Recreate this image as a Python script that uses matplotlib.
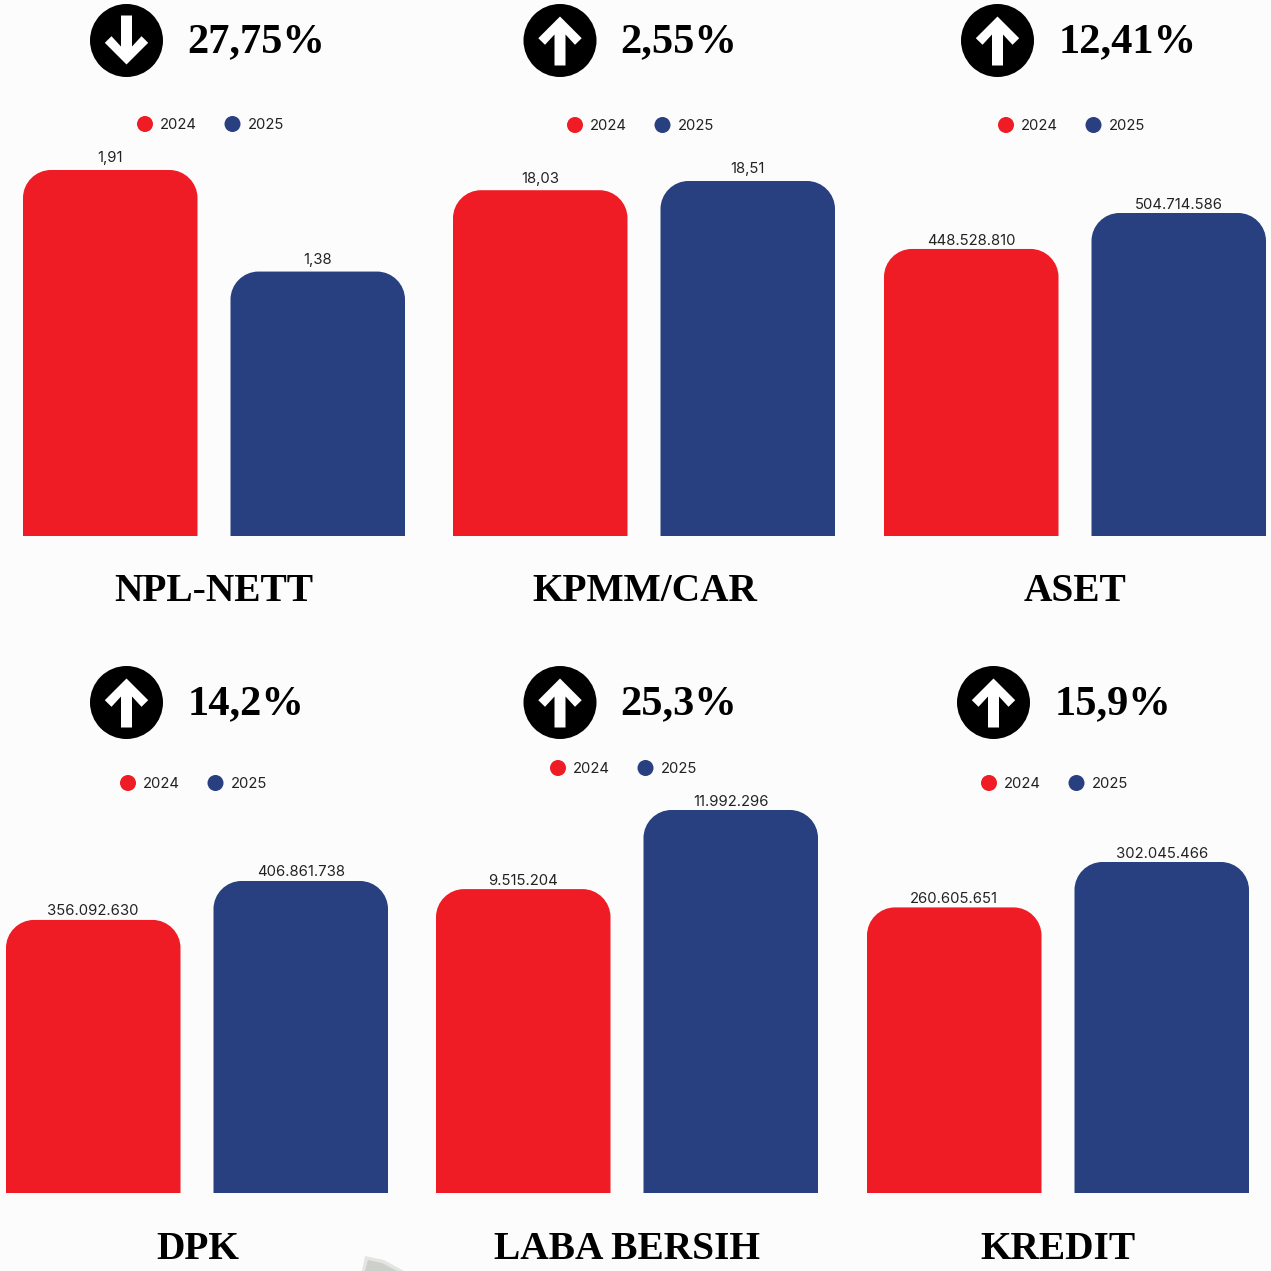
import matplotlib
matplotlib.use('Agg')
import matplotlib.pyplot as plt
from matplotlib.patches import Circle, PathPatch, Polygon
from matplotlib.path import Path

W = 1271
BG = '#FCFCFC'
RED = '#EF1C25'
BLUE = '#284080'
TEXT = '#222222'
SERIF = 'Liberation Serif'
SANS = 'Inter'

# the data
years = ['2024', '2025']
titles = ['NPL-NETT', 'KPMM/CAR', 'ASET', 'DPK', 'LABA BERSIH', 'KREDIT']
values_2024 = [1.91, 18.03, 448528810, 356092630, 9515204, 260605651]
values_2025 = [1.38, 18.51, 504714586, 406861738, 11992296, 302045466]
labels_2024 = ['1,91', '18,03', '448.528.810', '356.092.630', '9.515.204', '260.605.651']
labels_2025 = ['1,38', '18,51', '504.714.586', '406.861.738', '11.992.296', '302.045.466']
changes = ['27,75%', '2,55%', '12,41%', '14,2%', '25,3%', '15,9%']
directions = ['down', 'up', 'up', 'up', 'up', 'up']

# layout in pixels, one row per panel
bar_left = [23, 453, 884, 6, 436, 867]
base_y = [536, 536, 536, 1193, 1193, 1193]
top_y = [170, 181, 213, 881, 810, 862]
label_gap = [8, 7.5, 3.5, 4.5, 4, 4]
title_pos = [(214, 591.5), (645, 591.5), (1075, 591.5), (198, 1249.5), (627, 1249.5), (1058, 1249.5)]
icon_pos = [(126.5, 40.5), (560, 40.5), (997.5, 40.5), (126.5, 702.5), (560, 702.5), (993.5, 702.5)]
change_pos = [(187, 42), (620.5, 42), (1059, 42), (187.5, 704), (620.5, 704), (1055, 704)]
legend_pos = [(145, 124), (575, 125), (1006, 125), (128, 783), (558, 768), (989, 783)]

BAR_W = 174.5
BAR_STEP = 207.5
RADIUS = 28
ARROW = [(0, -24), (21.7, -2.3), (15, 4.3), (5.5, -6), (5.5, 25),
         (-5.5, 25), (-5.5, -6), (-15, 4.3), (-21.7, -2.3)]

fig = plt.figure(figsize=(W / 100, W / 100), dpi=100, facecolor=BG)

# overlay in pixel coordinates for the icons, titles and legends
over = fig.add_axes([0, 0, 1, 1], zorder=3)
over.set_xlim(0, W)
over.set_ylim(W, 0)
over.axis('off')


def rounded_bar(ax, x, width, height, rx, ry, color):
    l, r = x - width / 2, x + width / 2
    k = 0.45  # bezier handles for a quarter circle
    verts = [(l, 0), (l, height - ry),
             (l, height - ry * k), (l + rx * k, height), (l + rx, height),
             (r - rx, height),
             (r - rx * k, height), (r, height - ry * k), (r, height - ry),
             (r, 0), (l, 0)]
    codes = [Path.MOVETO, Path.LINETO, Path.CURVE4, Path.CURVE4, Path.CURVE4,
             Path.LINETO, Path.CURVE4, Path.CURVE4, Path.CURVE4, Path.LINETO, Path.CLOSEPOLY]
    ax.add_patch(PathPatch(Path(verts, codes), facecolor=color, edgecolor='none'))


for i in range(6):
    # axes spans the two bars, bottom at the baseline, top at the taller bar
    left = bar_left[i]
    width_px = BAR_W + BAR_STEP
    height_px = base_y[i] - top_y[i]
    ax = fig.add_axes([left / W, 1 - base_y[i] / W, width_px / W, height_px / W])
    vmax = max(values_2024[i], values_2025[i])
    ax.set_xlim(-(BAR_W / 2) / BAR_STEP, 1 + (BAR_W / 2) / BAR_STEP)
    ax.set_ylim(0, vmax)
    ax.axis('off')
    rx = RADIUS / BAR_STEP
    ry = RADIUS / height_px * vmax
    for j, (val, lab, col) in enumerate(zip([values_2024[i], values_2025[i]],
                                            [labels_2024[i], labels_2025[i]], [RED, BLUE])):
        rounded_bar(ax, j, BAR_W / BAR_STEP, val, rx, ry, col)
        ax.annotate(lab, (j, val), xytext=(0, label_gap[i] * 0.72), textcoords='offset points',
                    ha='center', va='baseline', fontsize=10.7, family=SANS, color=TEXT,
                    annotation_clip=False)

    over.text(title_pos[i][0], title_pos[i][1], titles[i], ha='center', va='center',
              family=SERIF, weight='bold', fontsize=28.4, color='black')

    cx, cy = icon_pos[i]
    over.add_patch(Circle((cx, cy), 36.5, facecolor='black', edgecolor='none'))
    sign = 1 if directions[i] == 'up' else -1
    over.add_patch(Polygon([(cx + px, cy + sign * py) for px, py in ARROW], closed=True,
                           facecolor='white', edgecolor='none'))
    over.text(change_pos[i][0], change_pos[i][1], changes[i], ha='left', va='center',
              family=SERIF, weight='bold', fontsize=30.5, color='black')

    lx, ly = legend_pos[i]
    for j, col in enumerate([RED, BLUE]):
        dot_x = lx + j * 87.5
        over.add_patch(Circle((dot_x, ly), 8, facecolor=col, edgecolor='none'))
        over.text(dot_x + 15, ly + 1, years[j], ha='left', va='center', family=SANS,
                  fontsize=10.7, color=TEXT)

# grey smudge at the bottom edge
over.add_patch(Polygon([(362, 1271), (365, 1256), (384, 1260), (404, 1271)], closed=True,
                       facecolor='#E4E5E3', edgecolor='none'))
over.add_patch(Polygon([(365, 1271), (368, 1260), (382, 1263), (397, 1271)], closed=True,
                       facecolor='#CDCFCB', edgecolor='none'))

fig.savefig('out.png', dpi=100, facecolor=BG)
